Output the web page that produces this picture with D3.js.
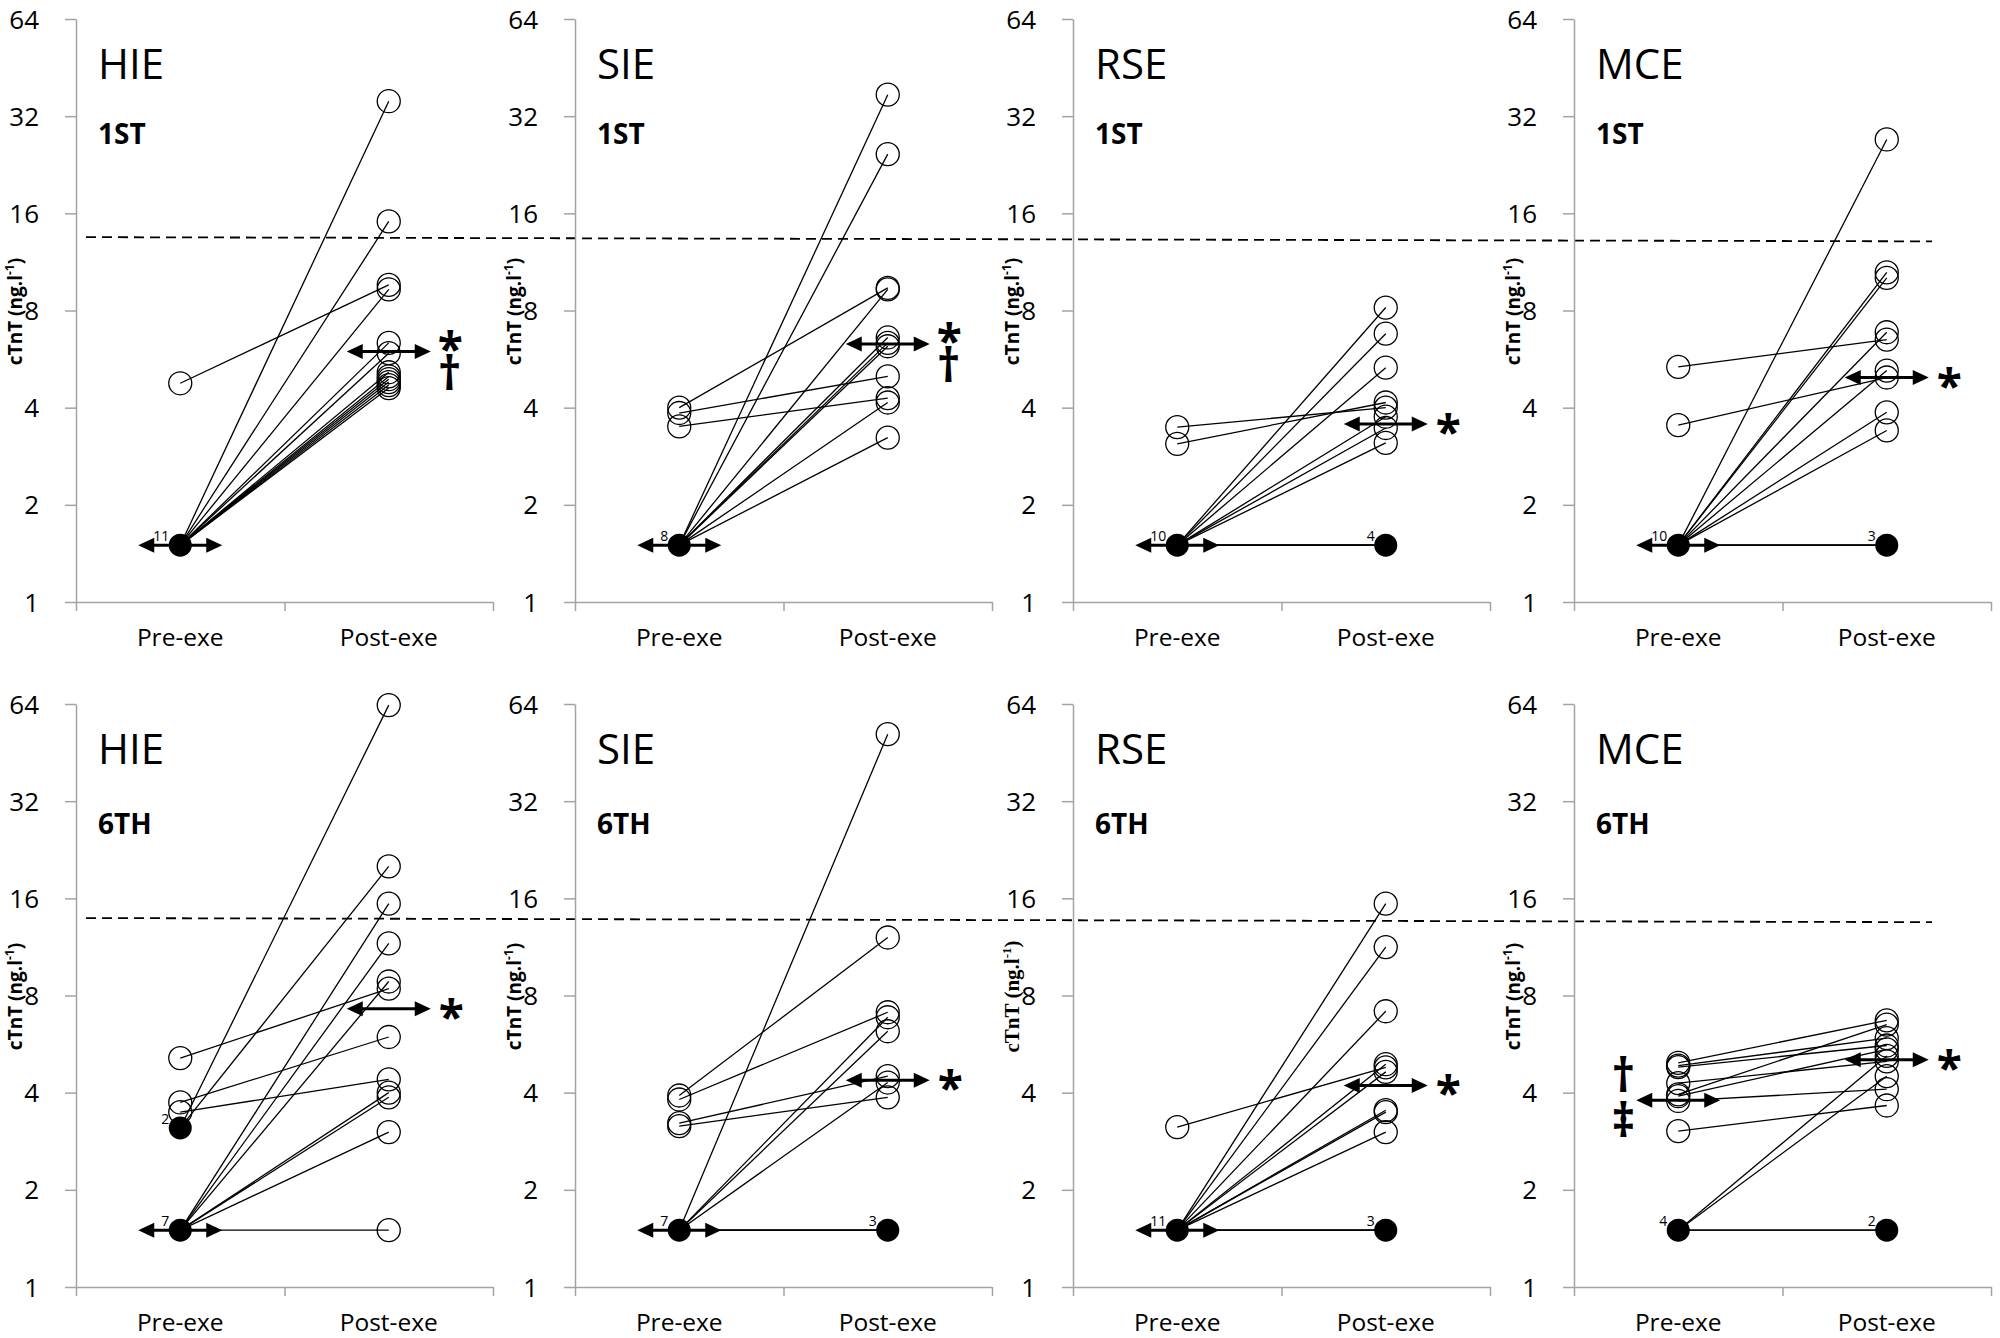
<!DOCTYPE html>
<html><head><meta charset="utf-8">
<script src="https://cdn.jsdelivr.net/npm/d3@7"></script>
<style>body{margin:0;background:#fff}svg{display:block}</style>
</head><body>
<svg id="chart" width="2000" height="1338"></svg>
<script>
// ---------- data ----------
const exercises = ["HIE", "SIE", "RSE", "MCE"];
const sessions = ["1ST", "6TH"];
const categories = ["Pre-exe", "Post-exe"];
const yTicks = [1, 2, 4, 8, 16, 32, 64];

// paired individual cTnT values (ng.l-1): pre[i] is joined to post[i]
const pre_HIE_1ST  = [4.76, 1.5, 1.5, 1.5, 1.5, 1.5, 1.5, 1.5, 1.5, 1.5, 1.5, 1.5];
const post_HIE_1ST = [9.6, 35.6, 15.1, 9.3, 6.35, 5.9, 5.15, 5.0, 4.9, 4.8, 4.7, 4.6];
const pre_SIE_1ST  = [4.0, 3.85, 3.5, 1.5, 1.5, 1.5, 1.5, 1.5, 1.5, 1.5, 1.5];
const post_SIE_1ST = [9.4, 5.0, 4.28, 37.3, 24.4, 9.3, 6.6, 6.35, 6.2, 4.15, 3.23];
const pre_RSE_1ST  = [3.48, 3.09, 1.5, 1.5, 1.5, 1.5, 1.5, 1.5, 1.5, 1.5, 1.5, 1.5];
const post_RSE_1ST = [4.0, 4.15, 8.17, 6.78, 5.32, 3.75, 3.46, 3.11, 1.5, 1.5, 1.5, 1.5];
const pre_MCE_1ST  = [5.35, 3.53, 1.5, 1.5, 1.5, 1.5, 1.5, 1.5, 1.5, 1.5, 1.5, 1.5];
const post_MCE_1ST = [6.5, 4.96, 27.1, 10.5, 10.1, 6.85, 5.21, 3.87, 3.4, 1.5, 1.5, 1.5];
const pre_HIE_6TH  = [5.12, 3.73, 3.48, 3.11, 3.11, 1.5, 1.5, 1.5, 1.5, 1.5, 1.5, 1.5];
const post_HIE_6TH = [8.4, 5.95, 4.4, 63.5, 20.1, 15.4, 11.6, 8.84, 4.0, 3.87, 3.02, 1.5];
const pre_SIE_6TH  = [3.92, 3.81, 3.22, 3.15, 1.5, 1.5, 1.5, 1.5, 1.5, 1.5, 1.5];
const post_SIE_6TH = [12.1, 7.1, 4.5, 3.87, 51.6, 6.85, 6.2, 4.3, 1.5, 1.5, 1.5];
const pre_RSE_6TH  = [3.13, 1.5, 1.5, 1.5, 1.5, 1.5, 1.5, 1.5, 1.5, 1.5, 1.5, 1.5];
const post_RSE_6TH = [4.79, 15.4, 11.3, 7.15, 4.9, 4.64, 3.53, 3.48, 3.02, 1.5, 1.5, 1.5];
const pre_MCE_6TH  = [4.95, 4.85, 4.8, 4.28, 3.95, 3.9, 3.77, 3.04, 1.5, 1.5, 1.5, 1.5];
const post_MCE_6TH = [6.7, 5.9, 5.6, 5.0, 6.5, 5.45, 4.1, 3.65, 5.2, 4.5, 1.5, 1.5];

// filled markers: [value, number of subjects]
const filledPre  = [[[1.5, 11]], [[1.5, 8]], [[1.5, 10]], [[1.5, 10]],
                    [[3.11, 2], [1.5, 7]], [[1.5, 7]], [[1.5, 11]], [[1.5, 4]]];
const filledPost = [[], [], [[1.5, 4]], [[1.5, 3]], [], [[1.5, 3]], [[1.5, 3]], [[1.5, 2]]];

// group central values (double arrows)
const meanPre  = [1.5, 1.5, 1.5, 1.5, 1.5, 1.5, 1.5, 3.79];
const meanPost = [5.97, 6.3, 3.56, 4.96, 7.28, 4.37, 4.21, 5.06];
const postSymbols = ["*†", "*†", "*", "*", "*", "*", "*", "*"];
const preSymbols  = ["", "", "", "", "", "", "", "†‡"];

// reference (dashed) line per row: value at left end, value at right end
const refStart = [13.5, 13.9];
const refEnd   = [13.1, 13.5];

const preSets  = [pre_HIE_1ST, pre_SIE_1ST, pre_RSE_1ST, pre_MCE_1ST, pre_HIE_6TH, pre_SIE_6TH, pre_RSE_6TH, pre_MCE_6TH];
const postSets = [post_HIE_1ST, post_SIE_1ST, post_RSE_1ST, post_MCE_1ST, post_HIE_6TH, post_SIE_6TH, post_RSE_6TH, post_MCE_6TH];

// ---------- layout ----------
const svg = d3.select("#chart");
const colX = [76, 575, 1073, 1574];
const rowY = [19, 704];
const plotW = 417, plotH = 583;
const SANS = "'Open Sans', sans-serif";
const AXIS = "#a3a3a3";

const x = d3.scalePoint().domain(categories).range([0, plotW]).padding(0.5);
const y = d3.scaleLog().base(2).domain([1, 64]).range([plotH, 0]);
const xt = d3.scaleLinear().domain([0, 2]).range([0, plotW]);

// dashed reference lines (drawn first, behind)
sessions.forEach((s, r) => {
  svg.append("line")
    .attr("x1", colX[0] + 10).attr("x2", colX[3] + 358)
    .attr("y1", rowY[r] + y(refStart[r])).attr("y2", rowY[r] + y(refEnd[r]))
    .attr("stroke", "#000").attr("stroke-width", 1.8)
    .attr("stroke-dasharray", "10,6");
});

function arrow(g, cx, cy) {
  const half = 42, head = 16, hh = 7.5;
  g.append("line").attr("x1", cx - half + 4).attr("x2", cx + half - 4)
    .attr("y1", cy).attr("y2", cy).attr("stroke", "#000").attr("stroke-width", 3);
  g.append("path").attr("d", `M${cx - half},${cy}L${cx - half + head},${cy - hh}L${cx - half + head},${cy + hh}Z`).attr("fill", "#000");
  g.append("path").attr("d", `M${cx + half},${cy}L${cx + half - head},${cy - hh}L${cx + half - head},${cy + hh}Z`).attr("fill", "#000");
}

// significance symbols: one text element, each character placed on its own baseline
function symbols(g, sx, str, baselines, anchor) {
  g.append("text").attr("text-anchor", anchor)
    .attr("font-family", SANS).attr("font-weight", 700).attr("font-size", 46)
    .attr("x", Array.from(str).map(() => sx).join(" "))
    .attr("y", baselines.join(" "))
    .text(str);
}

preSets.forEach((pre, k) => {
  const r = Math.floor(k / 4), c = k % 4;
  const post = postSets[k];
  const g = svg.append("g").attr("transform", `translate(${colX[c]},${rowY[r]})`);

  // y axis
  const ya = g.append("g").call(d3.axisLeft(y).tickValues(yTicks).tickFormat(d3.format("d"))
      .tickSize(11).tickSizeOuter(0).tickPadding(26));
  ya.select(".domain").attr("stroke", AXIS).attr("stroke-width", 1.5);
  ya.selectAll(".tick line").attr("stroke", AXIS).attr("stroke-width", 1.5);
  ya.selectAll(".tick text").attr("font-family", SANS).attr("font-size", 26)
    .attr("dy", "0.35em").attr("fill", "#000");

  // x axis
  const xa = g.append("g").attr("transform", `translate(0,${plotH})`)
    .call(d3.axisBottom(xt).tickValues([0, 1, 2]).tickFormat("").tickSize(9).tickSizeOuter(0));
  xa.select(".domain").attr("stroke", AXIS).attr("stroke-width", 1.5);
  xa.selectAll(".tick line").attr("stroke", AXIS).attr("stroke-width", 1.5);
  g.selectAll(".catlab").data(categories).enter().append("text")
    .attr("x", d => x(d)).attr("y", plotH + 44)
    .attr("text-anchor", "middle").attr("font-family", SANS).attr("font-size", 24.5)
    .text(d => d);

  // y axis title
  const serif = k === 6;
  const yl = g.append("text")
    .attr("transform", `translate(-54,${y(8) + 1}) rotate(-90)`)
    .attr("text-anchor", "middle")
    .attr("font-family", serif ? "'Liberation Serif', serif" : SANS)
    .attr("font-weight", 700).attr("font-size", serif ? 21 : 19);
  yl.append("tspan").text("cTnT (ng.l");
  yl.append("tspan").attr("font-size", serif ? 13 : 12).attr("dy", -8).text("-1");
  yl.append("tspan").attr("dy", 8).text(")");

  // titles
  g.append("text").attr("x", 22).attr("y", 60).attr("font-family", SANS)
    .attr("font-size", 42).text(exercises[c]);
  g.append("text").attr("x", 22).attr("y", r === 0 ? 125 : 130).attr("font-family", SANS)
    .attr("font-weight", 700).attr("font-size", 28).text(sessions[r]);

  // connecting lines
  g.selectAll(".pair").data(pre.map((v, i) => [v, post[i]])).enter().append("line")
    .attr("x1", x(categories[0])).attr("x2", x(categories[1]))
    .attr("y1", d => y(d[0])).attr("y2", d => y(d[1]))
    .attr("stroke", "#000").attr("stroke-width", 1.3);

  // open circles
  const fPreVals = filledPre[k].map(d => d[0]);
  const fPostVals = filledPost[k].map(d => d[0]);
  const openPts = pre.filter(v => !fPreVals.includes(v)).map(v => [categories[0], v])
    .concat(post.filter(v => !fPostVals.includes(v)).map(v => [categories[1], v]));
  g.selectAll(".open").data(openPts).enter().append("circle")
    .attr("cx", d => x(d[0])).attr("cy", d => y(d[1])).attr("r", 11.5)
    .attr("fill", "none").attr("stroke", "#000").attr("stroke-width", 1.3);

  // filled circles with counts
  const filledPts = filledPre[k].map(d => [categories[0], d[0], d[1]])
    .concat(filledPost[k].map(d => [categories[1], d[0], d[1]]));
  filledPts.forEach(d => {
    g.append("circle").attr("cx", x(d[0])).attr("cy", y(d[1])).attr("r", 11.5).attr("fill", "#000");
  });

  // arrows
  arrow(g, x(categories[0]), y(meanPre[k]));
  arrow(g, x(categories[1]), y(meanPost[k]));

  // counts (on top)
  filledPts.forEach(d => {
    g.append("text").attr("x", x(d[0]) - 11).attr("y", y(d[1]) - 4)
      .attr("text-anchor", "end").attr("font-family", SANS).attr("font-size", 14)
      .text(d[2]);
  });

  // significance symbols
  const ps = postSymbols[k];
  const pyc = y(meanPost[k]);
  if (ps.length === 1) symbols(g, x(categories[1]) + 50, ps, [pyc + 25], "start");
  else symbols(g, x(categories[1]) + 49, ps, [pyc + 14, pyc + 38], "start");
  const qs = preSymbols[k];
  const qyc = y(meanPre[k]);
  if (qs.length === 2) symbols(g, x(categories[0]) - 55, qs, [qyc - 8, qyc + 37], "middle");
});
</script>
</body></html>
